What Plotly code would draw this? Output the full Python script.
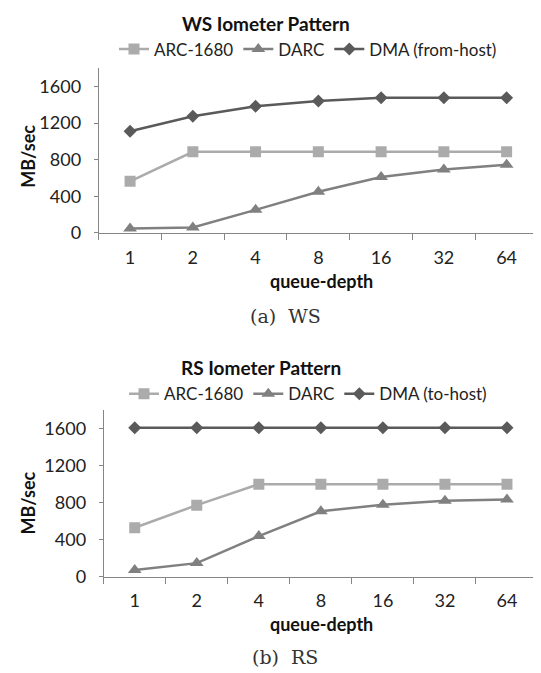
import plotly.graph_objects as go

categories = ["1", "2", "4", "8", "16", "32", "64"]

ws_arc = [564, 885, 885, 885, 885, 885, 885]
ws_darc = [48, 60, 252, 450, 611, 692, 745]
ws_dma = [1110, 1274, 1382, 1440, 1476, 1476, 1476]

rs_arc = [530, 774, 1000, 1000, 1000, 1000, 1000]
rs_darc = [72, 147, 439, 708, 779, 821, 834]
rs_dma = [1610, 1610, 1610, 1610, 1610, 1610, 1610]

y_ticks = [0, 400, 800, 1200, 1600]

W, H = 541, 673
FONT = "Lato"

C_ARC = "#ABABAB"
C_DARC = "#808080"
C_DMA = "#5A5A5A"

fig = go.Figure()

def add_series(xa, ya, arc, darc, dma, dma_name, legend):
    fig.add_trace(go.Scatter(x=categories, y=arc, name="ARC-1680", mode="lines+markers",
                             line=dict(color=C_ARC, width=2.5),
                             marker=dict(symbol="square", size=11, color=C_ARC),
                             xaxis=xa, yaxis=ya, legend=legend))
    fig.add_trace(go.Scatter(x=categories, y=darc, name="DARC", mode="lines+markers",
                             line=dict(color=C_DARC, width=2.5),
                             marker=dict(symbol="triangle-up", size=12, color=C_DARC),
                             xaxis=xa, yaxis=ya, legend=legend))
    fig.add_trace(go.Scatter(x=categories, y=dma, name=dma_name, mode="lines+markers",
                             line=dict(color=C_DMA, width=2.5),
                             marker=dict(symbol="diamond", size=10, color=C_DMA),
                             xaxis=xa, yaxis=ya, legend=legend))

add_series("x", "y", ws_arc, ws_darc, ws_dma, "DMA (from-host)", "legend")
add_series("x2", "y2", rs_arc, rs_darc, rs_dma, "DMA (to-host)", "legend2")

def px_x(p):
    return p / W

def px_y(p):
    return 1 - p / H

xcommon = dict(type="category", range=[-0.5, 6.5], showline=True, linecolor="#868686", linewidth=1,
               ticks="outside", tickson="boundaries", ticklen=6, tickcolor="#868686",
               showgrid=False, zeroline=False, tickfont=dict(family=FONT, size=18, color="#222"),
               ticklabelstandoff=8, fixedrange=True)
ycommon = dict(range=[0, 1800], tickvals=y_ticks, showline=True, linecolor="#868686", linewidth=1,
               ticks="outside", ticklen=4, tickcolor="#868686", showgrid=False, zeroline=False,
               tickfont=dict(family=FONT, size=18, color="#222"), ticklabelstandoff=9)

fig.update_layout(
    width=W, height=H,
    margin=dict(l=0, r=0, t=0, b=0),
    paper_bgcolor="white", plot_bgcolor="white",
    font=dict(family=FONT, color="#222"),
    xaxis=dict(domain=[px_x(90.7), px_x(530)], anchor="y", **xcommon),
    yaxis=dict(domain=[px_y(228.3), px_y(61)], anchor="x", **ycommon),
    xaxis2=dict(domain=[px_x(95.7), px_x(530)], anchor="y2", **xcommon),
    yaxis2=dict(domain=[px_y(577.3), px_y(408.3)], anchor="x2", **ycommon),
    legend=dict(orientation="h", x=px_x(106), y=px_y(42), xanchor="left", yanchor="middle",
                font=dict(family=FONT, size=17, color="#222"), itemwidth=30, bgcolor="rgba(0,0,0,0)"),
    legend2=dict(orientation="h", x=px_x(116), y=px_y(392), xanchor="left", yanchor="middle",
                 font=dict(family=FONT, size=17, color="#222"), itemwidth=30, bgcolor="rgba(0,0,0,0)"),
    showlegend=True,
)

def ann(text, x, y, size, bold=False, family=FONT, angle=0, color="#111"):
    fig.add_annotation(text=f"<b>{text}</b>" if bold else text, x=px_x(x), y=px_y(y),
                       xref="paper", yref="paper", showarrow=False, xanchor="center", yanchor="middle",
                       textangle=angle, font=dict(family=family, size=size, color=color))

ann("WS Iometer Pattern", 258, 16, 19, bold=True)
ann("RS Iometer Pattern", 253, 365, 19, bold=True)
ann("MB/sec", 20, 151, 18, bold=True, angle=-90)
ann("MB/sec", 20, 503, 18, bold=True, angle=-90)
ann("queue-depth", 313, 277, 18, bold=True)
ann("queue-depth", 313, 625, 18, bold=True)
ann("(a)  WS", 277, 313, 19, family="DejaVu Serif", color="#333")
ann("(b)  RS", 277, 659, 19, family="DejaVu Serif", color="#333")

fig.write_html("out.html")
